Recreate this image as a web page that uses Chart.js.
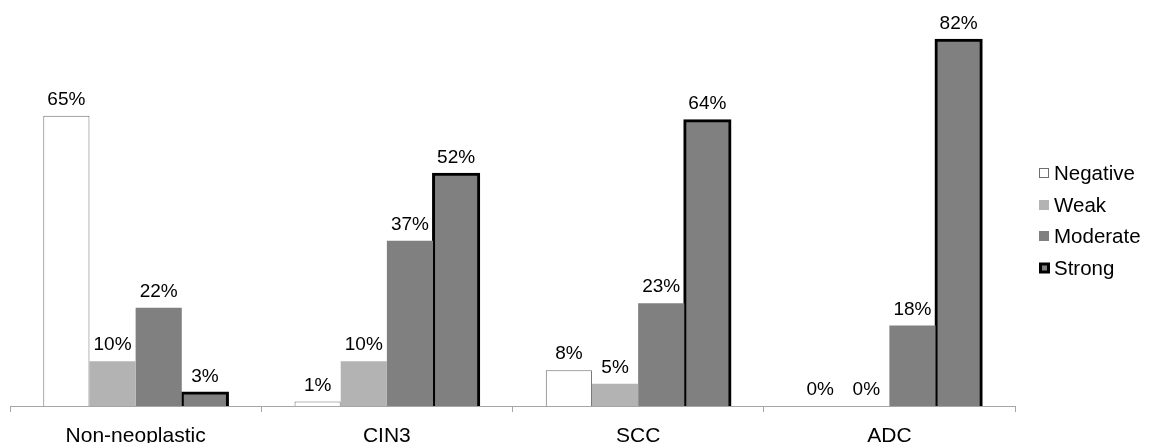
<!DOCTYPE html>
<html>
<head>
<meta charset="utf-8">
<script src="https://cdn.jsdelivr.net/npm/chart.js@4/dist/chart.umd.min.js"></script>
<style>
  html, body { margin: 0; padding: 0; background: #ffffff; }
  #wrap { width: 1149px; height: 443px; position: relative; }
</style>
</head>
<body>
<div id="wrap"><canvas id="chart"></canvas></div>
<script>
// Staining intensity distribution by lesion type (percent of cases)
const categories = ['Non-neoplastic', 'CIN3', 'SCC', 'ADC'];
const negative = [65, 1, 8, 0];
const weak     = [10, 10, 5, 0];
const moderate = [22, 37, 23, 18];
const strong   = [3, 52, 64, 82];
const seriesNames = ['Negative', 'Weak', 'Moderate', 'Strong'];

const FONT = '"Liberation Sans", Arial, sans-serif';

// Percent labels above each bar
const valueLabels = {
  id: 'valueLabels',
  afterDatasetsDraw(chart) {
    const ctx = chart.ctx;
    ctx.save();
    ctx.font = '19px ' + FONT;
    ctx.fillStyle = '#000000';
    ctx.textAlign = 'center';
    ctx.textBaseline = 'alphabetic';
    chart.data.datasets.forEach((ds, di) => {
      const meta = chart.getDatasetMeta(di);
      meta.data.forEach((bar, i) => {
        ctx.fillText(ds.data[i] + '%', bar.x, bar.y - 11);
      });
    });
    ctx.restore();
  }
};

// Category names under the axis
const categoryLabels = {
  id: 'categoryLabels',
  afterDraw(chart) {
    const ctx = chart.ctx;
    const xs = chart.scales.x;
    ctx.save();
    ctx.font = '21px ' + FONT;
    ctx.fillStyle = '#000000';
    ctx.textAlign = 'center';
    ctx.textBaseline = 'alphabetic';
    chart.data.labels.forEach((lab, i) => {
      ctx.fillText(lab, xs.getPixelForValue(i), xs.top + 35.5);
    });
    ctx.restore();
  }
};

// Legend column at the right of the plot
const sideLegend = {
  id: 'sideLegend',
  afterDraw(chart) {
    const ctx = chart.ctx;
    ctx.save();
    ctx.font = '20.5px ' + FONT;
    ctx.textBaseline = 'alphabetic';
    ctx.textAlign = 'left';
    const x0 = 1039, y0 = 173, step = 31.7, s = 10;
    chart.data.datasets.forEach((ds, i) => {
      const cy = Math.round(y0 + i * step);
      const bx = x0, by = cy - s / 2;
      if (ds.borderWidth >= 2) {
        ctx.fillStyle = '#000000';
        ctx.fillRect(bx, by - 0.5, s + 1, s + 1);
        ctx.fillStyle = ds.backgroundColor;
        ctx.fillRect(bx + 3, by + 2.5, s - 5, s - 5);
      } else {
        ctx.fillStyle = ds.backgroundColor;
        ctx.fillRect(bx, by, s, s);
        if (ds.borderWidth > 0) {
          ctx.strokeStyle = ds.borderColor;
          ctx.lineWidth = 1;
          ctx.strokeRect(bx + 0.5, by + 0.5, s - 1, s - 1);
        }
      }
      ctx.fillStyle = '#000000';
      ctx.fillText(ds.label, x0 + 15, cy + 7);
    });
    ctx.restore();
  }
};

new Chart(document.getElementById('chart'), {
  type: 'bar',
  data: {
    labels: categories,
    datasets: [
      { label: seriesNames[0], data: negative, backgroundColor: '#ffffff', borderColor: '#6e6e6e', borderWidth: 1 },
      { label: seriesNames[1], data: weak, backgroundColor: '#b3b3b3', borderWidth: 0 },
      { label: seriesNames[2], data: moderate, backgroundColor: '#808080', borderWidth: 0 },
      { label: seriesNames[3], data: strong, backgroundColor: '#808080', borderColor: '#000000', borderWidth: 3, inflateAmount: 1 }
    ]
  },
  options: {
    responsive: true,
    maintainAspectRatio: false,
    animation: false,
    devicePixelRatio: 1,
    layout: { padding: { left: 10, right: 134, top: 4, bottom: 31 } },
    plugins: {
      legend: { display: false },
      tooltip: { enabled: false }
    },
    datasets: {
      bar: { barPercentage: 1.0, categoryPercentage: 0.735 }
    },
    scales: {
      x: {
        afterFit(scale) { scale.height = 6; },
        grid: {
          offset: true,
          drawOnChartArea: false,
          drawTicks: true,
          tickLength: 6,
          color: '#a6a6a6'
        },
        border: { display: true, color: '#a6a6a6', width: 1 },
        ticks: { display: false }
      },
      y: {
        display: false,
        min: 0,
        max: 90
      }
    }
  },
  plugins: [valueLabels, categoryLabels, sideLegend]
});
</script>
</body>
</html>
